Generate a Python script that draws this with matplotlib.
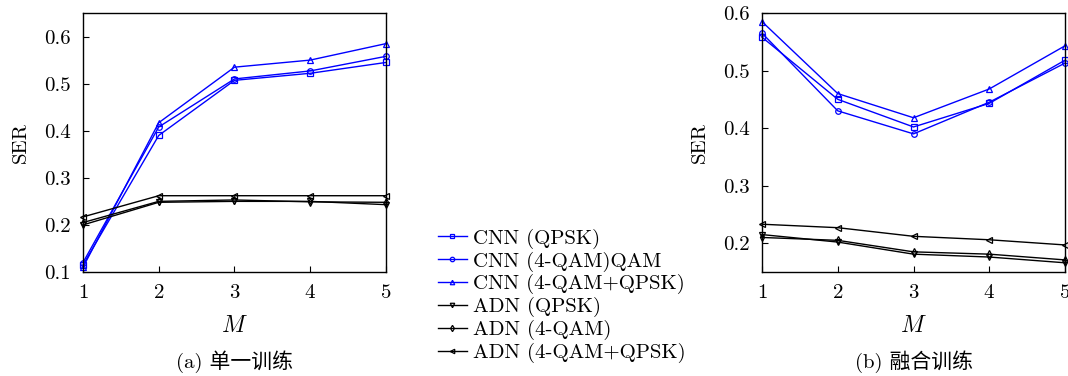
import numpy as np
import matplotlib.pyplot as plt

plt.rcParams['font.family'] = ['cmr10', 'Noto Sans CJK SC', 'DejaVu Sans']
plt.rcParams['mathtext.fontset'] = 'cm'
plt.rcParams['axes.formatter.use_mathtext'] = True

M = [1, 2, 3, 4, 5]
labels = ['CNN (QPSK)', 'CNN (4-QAM)QAM', 'CNN (4-QAM+QPSK)',
          'ADN (QPSK)', 'ADN (4-QAM)', 'ADN (4-QAM+QPSK)']

# (a) single training
a_cnn_qpsk = [0.115, 0.390, 0.507, 0.522, 0.545]
a_cnn_qam = [0.120, 0.408, 0.510, 0.527, 0.558]
a_cnn_mix = [0.110, 0.417, 0.535, 0.550, 0.585]
a_adn_qpsk = [0.200, 0.248, 0.250, 0.250, 0.243]
a_adn_qam = [0.205, 0.250, 0.253, 0.249, 0.248]
a_adn_mix = [0.217, 0.262, 0.262, 0.262, 0.262]

# (b) fused training
b_cnn_qpsk = [0.558, 0.450, 0.402, 0.443, 0.518]
b_cnn_qam = [0.565, 0.430, 0.390, 0.445, 0.513]
b_cnn_mix = [0.585, 0.460, 0.418, 0.468, 0.543]
b_adn_qpsk = [0.215, 0.202, 0.181, 0.176, 0.166]
b_adn_qam = [0.210, 0.205, 0.185, 0.181, 0.171]
b_adn_mix = [0.233, 0.227, 0.212, 0.206, 0.197]

markers = ['s', 'o', '^', 'v', 'd', '<']
colors = ['#0000ff'] * 3 + ['black'] * 3

fig = plt.figure(figsize=(10.68, 3.76), dpi=100)
ax1 = fig.add_axes([0.0777, 0.2766, 0.2837, 0.6888])
ax2 = fig.add_axes([0.7135, 0.2766, 0.2837, 0.6888])

data_a = [a_cnn_qpsk, a_cnn_qam, a_cnn_mix, a_adn_qpsk, a_adn_qam, a_adn_mix]
data_b = [b_cnn_qpsk, b_cnn_qam, b_cnn_mix, b_adn_qpsk, b_adn_qam, b_adn_mix]

handles = []
for i in range(6):
    h, = ax1.plot(M, data_a[i], color=colors[i], marker=markers[i], ms=4,
                  mfc='none', mew=0.9, lw=1.0, label=labels[i], clip_on=False)
    ax2.plot(M, data_b[i], color=colors[i], marker=markers[i], ms=4,
             mfc='none', mew=0.9, lw=1.0, clip_on=False)
    handles.append(h)

for ax, yl, yt, cap in [(ax1, (0.1, 0.65), [0.1, 0.2, 0.3, 0.4, 0.5, 0.6], '(a) 单一训练'),
                        (ax2, (0.15, 0.6), [0.2, 0.3, 0.4, 0.5, 0.6], '(b) 融合训练')]:
    ax.set_xlim(1, 5)
    ax.set_ylim(yl)
    ax.set_xticks(M)
    ax.set_yticks(yt)
    ax.set_yticklabels(['%.1f' % v for v in yt])
    ax.tick_params(direction='in', labelsize=15, top=False, right=False, length=4, pad=9)
    ax.set_ylabel('SER', fontsize=15, labelpad=10)
    ax.set_xlabel('$M$', fontsize=17, labelpad=9)
    ax.text(0.5, -0.345, cap, transform=ax.transAxes, ha='center', va='center', fontsize=15)
    for s in ax.spines.values():
        s.set_linewidth(1.0)

fig.legend(handles=handles, loc='upper left', bbox_to_anchor=(0.398, 0.425),
           frameon=False, fontsize=15, handlelength=1.4, handletextpad=0.3,
           labelspacing=0.13, markerscale=0.8, borderaxespad=0.2)

plt.savefig('out.png', dpi=100)
